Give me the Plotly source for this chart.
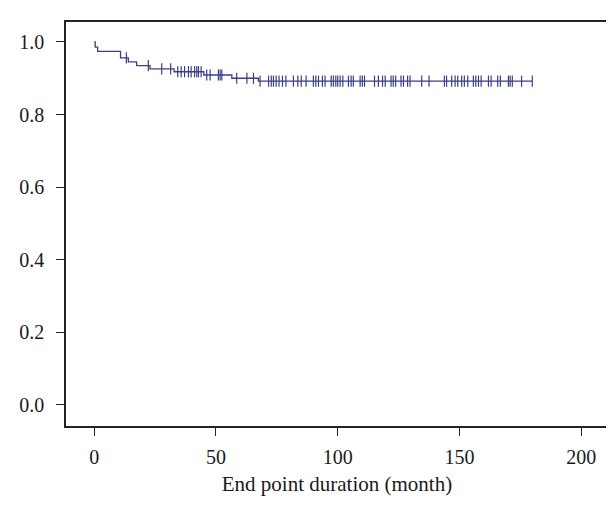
import plotly.graph_objects as go

# Kaplan-Meier step curve: event times and survival after each step
step_times = [0.0, 0.4, 1.4, 10.8, 14.0, 17.4, 22.9, 32.8, 45.0, 56.5, 67.4, 180.0]
step_surv = [1.0, 0.986, 0.974, 0.956, 0.945, 0.935, 0.926, 0.918, 0.909, 0.900, 0.892, 0.892]

# Censoring times (tick marks)
censor_times = [13.2, 22.2, 27.7, 31.4, 34.3, 35.7, 37.1, 38.7, 39.8, 41.2, 42.1, 42.8,
                43.9, 46.2, 47.6, 51.0, 51.7, 52.4, 58.5, 62.7, 65.4,
                68.1, 71.6, 72.7, 73.6, 74.7, 75.9, 77.3, 78.7, 81.8, 83.6, 85.0, 87.0,
                90.0, 91.0, 92.1, 93.7, 94.8, 97.3, 98.2, 99.2, 100.0, 101.0, 102.1,
                104.4, 105.5, 106.4, 109.2, 110.1, 111.0, 115.1, 116.7, 118.4, 119.5,
                121.9, 122.8, 123.8, 126.0, 127.0, 128.7, 129.7, 134.5, 137.5,
                143.8, 144.7, 146.8, 148.2, 149.3, 150.9, 152.0, 153.4, 155.7, 156.7,
                157.8, 158.9, 161.9, 163.0, 165.7, 166.8, 170.1, 170.8, 171.7, 175.5, 179.9]

x_ticks = [0, 50, 100, 150, 200]
y_ticks = [0.0, 0.2, 0.4, 0.6, 0.8, 1.0]
x_title = "End point duration (month)"

color = "#3b3e88"

def surv_at(t):
    s = step_surv[0]
    for tt, ss in zip(step_times, step_surv):
        if tt <= t:
            s = ss
    return s

censor_surv = [surv_at(t) for t in censor_times]

fig = go.Figure()
fig.add_trace(go.Scatter(x=step_times, y=step_surv, mode="lines",
                         line=dict(color=color, width=1.3, shape="hv"),
                         hoverinfo="skip", showlegend=False))
fig.add_trace(go.Scatter(x=censor_times, y=censor_surv, mode="markers",
                         marker=dict(symbol="line-ns", size=8,
                                     line=dict(color=color, width=1.2)),
                         showlegend=False))

font_family = "Liberation Serif, DejaVu Serif, serif"
fig.update_layout(
    width=614, height=506,
    margin=dict(l=58, r=14, t=14, b=88),
    paper_bgcolor="white", plot_bgcolor="white",
    font=dict(family=font_family, size=20, color="#1a1a1a"),
)
fig.update_xaxes(range=[-11.6, 211], tickvals=x_ticks, ticktext=[str(v) for v in x_ticks],
                 showline=True, mirror=True, linecolor="#222", linewidth=1.5,
                 ticks="outside", ticklen=8, tickwidth=1.2, tickcolor="#222",
                 ticklabelstandoff=4,
                 showgrid=False, zeroline=False,
                 title=dict(text=x_title, font=dict(size=21), standoff=10))
fig.update_yaxes(range=[-0.058, 1.055], tickvals=y_ticks, ticktext=[f"{v:.1f}" for v in y_ticks],
                 showline=True, mirror=True, linecolor="#222", linewidth=1.5,
                 ticks="outside", ticklen=8, tickwidth=1.2, tickcolor="#222",
                 ticklabelstandoff=8,
                 showgrid=False, zeroline=False)

fig.write_html("out.html")
